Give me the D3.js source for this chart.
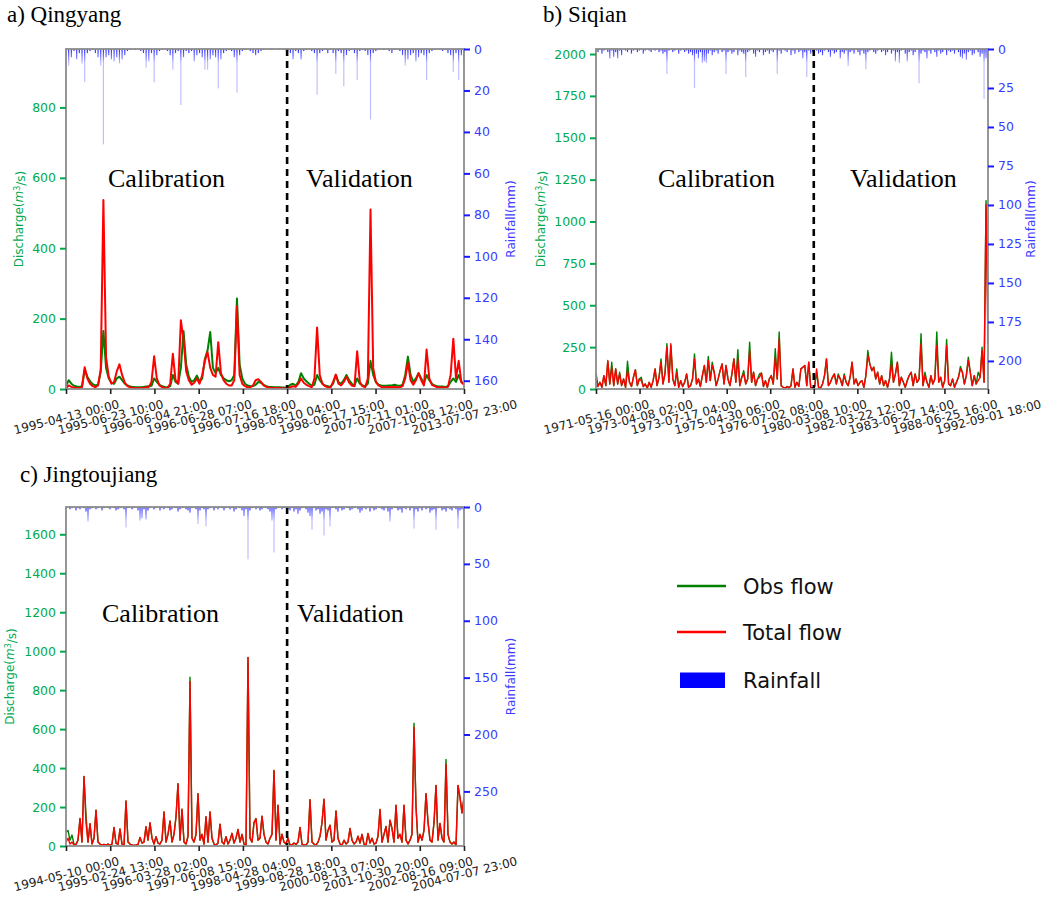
<!DOCTYPE html>
<html>
<head>
<meta charset="utf-8">
<script src="https://cdn.jsdelivr.net/npm/d3@7"></script>
<style>
  body { margin: 0; background: #fff; }
  svg { display: block; }
  text { font-family: "DejaVu Sans", sans-serif; }
  .serif { font-family: "Liberation Serif", "Times New Roman", serif; }
</style>
</head>
<body>
<div id="container"></div>
<script>
// ---- a) Qingyang ----
var datesA = ["1995-04-13 00:00", "1995-06-23 10:00", "1996-06-04 21:00", "1996-06-28 07:00", "1996-07-16 18:00",
  "1998-05-10 04:00", "1998-06-17 15:00", "2007-07-11 01:00", "2007-10-08 12:00", "2013-07-07 23:00"];
var obsA = [8,25,15,9,7,6,8,55,35,22, 14,10,12,50,165,60,30,18,15,30, 35,25,15,10,7,6,5,5,5,6,
  7,8,9,30,20,12,8,6,5,8, 40,20,15,60,165,70,35,20,25,38, 22,30,86,110,162,60,45,60,40,30,
  25,22,25,40,257,70,30,15,10,8, 8,12,20,18,12,8,6,6,5,5, 5,4,4,6,12,15,10,20,45,30,
  22,15,10,12,40,25,15,10,8,6, 15,40,20,15,25,40,25,15,10,30, 15,10,8,15,80,40,20,12,10,9,
  9,10,10,12,10,9,12,40,92,40, 20,30,45,30,15,40,25,15,10,8, 7,7,6,8,20,30,20,40,20,15];
var simA = [3,10,6,4,3,3,5,62,30,15, 8,5,10,55,537,90,35,15,20,50, 70,40,18,8,5,3,3,2,3,3,
  5,6,20,93,30,10,5,3,3,15, 100,25,15,195,140,50,25,12,18,30, 15,40,80,105,60,40,35,133,45,25,
  15,10,10,25,235,40,15,8,5,5, 10,25,28,20,10,6,4,3,3,3, 2,2,2,3,5,8,6,15,30,18,
  12,8,5,30,175,40,15,8,5,4, 20,41,15,10,20,35,18,10,8,107, 20,8,5,30,510,60,20,10,6,5,
  5,6,5,6,5,5,8,30,75,25, 12,25,45,25,10,112,30,12,8,5, 5,4,4,6,40,143,30,80,20,12];
var rainA = [3,8,4,1,5,2,7,16,2,1, 0.5,2,4,8,46,4,3,5,6,4, 7,5,3,1,0.5,0,0.5,0,1,2,
  9,6,2,16,3,1,0.5,0,1,3, 10,2,1,27,4,1,2,1,6,3, 2,4,10,10,5,3,4,19,5,2,
  1,0.5,1,4,21,3,1,0.5,0,1, 2,3,2,1,0.5,0,0,0.5,0,0, 0.5,0,0.5,1,2,5,1,2,5,1,
  0.5,0,1,2,22,2,1,0.5,2,0.5, 2,12,1,2,18,3,1,0.5,2,15, 1,0.5,1,3,34,2,1,0.5,0,0.5,
  0,1,2,0.5,0,1,3,8,5,3, 2,6,4,2,3,15,2,1,0.5,0, 0.5,1,0.5,2,3,11,2,15,3,8];

// ---- b) Siqian ----
var datesB = ["1971-05-16 00:00", "1973-04-08 02:00", "1973-07-17 04:00", "1975-04-30 06:00", "1976-07-02 08:00",
  "1980-03-08 10:00", "1982-03-22 12:00", "1983-06-27 14:00", "1988-06-25 16:00", "1992-09-01 18:00"];
var simB = [60,15,40,10,80,20,170,30,130,20, 120,30,90,20,60,10,110,40,15,70,
  115,20,60,50,15,30,5,40,10,50, 120,20,70,160,30,90,250,40,270,60,
  20,100,10,50,15,40,90,10,20,60, 180,30,60,15,80,140,40,170,50,140,
  100,20,60,110,150,30,140,60,20,90, 180,40,180,20,70,90,30,60,230,40,
  100,20,60,70,95,15,50,10,60,80, 30,190,60,300,20,10,5,15,8,20,
  120,10,40,15,120,130,140,20,160,10, 5,15,120,10,5,30,80,180,20,40,
  70,90,30,80,60,20,80,40,20,70, 160,30,60,20,40,50,10,80,200,150,
  110,130,60,100,30,80,20,50,10,60, 150,40,90,160,20,70,40,10,50,80,
  100,20,90,40,60,270,20,80,40,10, 80,30,60,260,40,70,10,50,260,30,
  20,60,10,40,70,120,100,30,80,170, 100,20,80,30,50,70,230,40,1100,270];
var obsB = [100,15,40,10,80,20,165,30,160,20, 120,30,100,20,60,10,166,40,15,70,
  115,20,60,70,15,30,5,40,10,50, 120,20,70,180,30,90,270,40,260,60,
  20,120,10,50,15,40,90,10,20,60, 210,30,60,15,80,140,40,195,50,160,
  100,20,60,110,150,30,140,60,20,90, 180,40,235,20,70,110,30,60,280,40,
  100,20,60,90,95,15,50,10,60,80, 30,240,60,340,20,10,5,15,8,20,
  120,10,40,15,120,130,140,20,160,10, 5,15,100,10,5,30,80,180,20,40,
  70,90,30,90,60,20,90,40,20,70, 160,30,60,20,40,50,10,80,230,150,
  110,130,60,100,30,80,20,50,10,60, 220,40,90,160,20,70,40,10,50,80,
  100,20,90,40,60,330,20,100,40,10, 80,30,60,340,40,70,10,50,296,30,
  20,60,10,40,70,135,100,30,80,190, 100,20,80,30,100,70,250,40,1125,390];
var rainB = [1,2,0,3,1,0,2,6,1,5, 2,6,1,4,0,1,2,0,3,1, 0,2,1,0,3,1,0,1,2,0, 1,0,2,1,3,2,16,1,0,2,
  1,0,3,1,0,2,1,3,2,4, 25,3,6,2,9,8,9,3,1,4, 2,1,3,0,2,1,16,2,1,3, 2,0,4,1,2,3,18,2,1,0,
  3,5,1,2,0,4,2,1,3,1, 2,0,16,1,3,0,1,2,0,4, 1,3,0,2,1,6,2,18,1,3, 2,0,1,3,2,4,1,0,2,5,
  1,3,2,0,6,2,3,1,11,2, 1,3,0,2,4,1,3,13,2,1, 0,2,3,1,0,2,1,4,2,0, 3,1,8,2,9,1,0,3,8,2,
  1,4,2,0,22,3,1,2,6,1, 3,0,2,5,1,3,2,0,4,1, 2,1,3,0,2,5,6,3,7,2, 1,4,3,0,2,5,3,32,6,10];

// ---- c) Jingtoujiang ----
var datesC = ["1994-05-10 00:00", "1995-02-24 13:00", "1996-03-28 02:00", "1997-06-08 15:00", "1998-04-28 04:00",
  "1999-08-28 18:00", "2000-08-13 07:00", "2001-10-30 20:00", "2002-08-16 09:00", "2004-07-07 23:00"];
var simC = [20,40,10,20,5,8,30,141,20,357, 120,20,115,10,40,184,20,10,5,8,
  5,10,5,10,95,15,8,87,10,5, 231,20,10,5,3,5,8,44,15,20,
  99,30,119,40,10,48,15,10,30,175, 20,60,128,20,60,150,320,30,189,20,
  10,50,845,40,20,60,269,30,60,10, 150,20,175,40,10,5,15,112,20,10,
  48,10,30,65,15,40,85,20,60,10, 5,968,40,20,120,141,30,40,153,60,
  20,10,40,60,388,30,209,10,60,20, 10,40,5,5,15,8,20,95,10,5,
  5,20,238,20,10,5,20,50,120,240, 30,80,107,20,30,180,40,10,5,30,
  10,20,90,30,10,20,50,15,60,10, 5,65,15,40,10,15,50,187,20,60,
  100,20,133,90,20,209,40,60,20,209, 30,10,30,60,610,200,20,60,30,80,
  269,124,30,20,120,311,30,116,40,20, 420,60,20,10,20,5,311,248,170,248];
var obsC = [70,80,30,56,10,8,30,141,20,357, 160,20,115,10,40,184,20,10,5,8,
  5,10,5,10,95,15,8,87,10,5, 231,20,10,5,3,5,8,44,15,20,
  99,30,119,40,10,48,15,10,30,175, 20,60,128,20,60,150,320,30,189,20,
  10,50,866,40,20,60,269,30,60,10, 150,20,175,40,10,5,15,112,20,10,
  48,10,30,65,15,40,85,20,60,10, 5,968,40,20,120,141,30,40,153,60,
  20,10,40,60,388,30,209,10,60,20, 10,40,5,5,15,8,20,95,10,5,
  5,20,238,20,10,5,20,50,120,240, 30,80,107,20,30,180,40,10,5,30,
  10,20,90,30,10,20,50,15,60,10, 5,65,15,40,10,15,50,187,20,60,
  100,20,133,90,20,209,40,60,20,209, 30,10,30,60,630,200,20,60,30,80,
  269,124,30,20,120,311,30,116,40,20, 444,60,20,10,20,5,311,248,170,248];
var rainC = [1,0,2,1,0,3,1,2,0,1, 4,13,2,1,0,2,1,0,3,1, 0,1,2,0,1,3,2,1,0,2, 18,1,0,2,1,0,3,12,10,2,
  11,3,1,0,2,1,0,3,1,2, 0,1,3,2,0,1,4,2,1,0, 2,3,5,1,0,2,15,3,1,2, 17,2,1,0,3,1,2,0,1,3,
  1,0,2,1,4,2,0,1,3,8, 2,46,3,1,0,2,1,3,2,0, 1,2,4,12,40,2,1,0,2,1, 0,2,3,1,4,2,6,3,1,0,
  2,5,8,20,1,3,2,6,4,25, 2,3,17,1,0,2,4,1,3,2, 0,1,3,2,1,0,2,5,3,1, 2,0,4,1,3,2,0,1,2,3,
  1,4,13,2,0,1,3,2,5,1, 2,0,3,1,19,2,4,1,3,0, 2,1,5,3,2,20,1,0,3,2, 4,1,2,3,0,2,19,3,2,5];

// axis ticks
var qTicksA = [0, 200, 400, 600, 800], rTicksA = [0, 20, 40, 60, 80, 100, 120, 140, 160];
var qTicksB = [0, 250, 500, 750, 1000, 1250, 1500, 1750, 2000], rTicksB = [0, 25, 50, 75, 100, 125, 150, 175, 200];
var qTicksC = [0, 200, 400, 600, 800, 1000, 1200, 1400, 1600], rTicksC = [0, 50, 100, 150, 200, 250];

var W = 1052, H = 897;
var GREEN_TXT = "#00a94f", BLUE_TXT = "#3b3bff";
var TICK_FONT = "12.5px";

var svg = d3.select("#container").append("svg")
  .attr("width", W).attr("height", H);
svg.append("rect").attr("width", W).attr("height", H).attr("fill", "#fff");
var defs = svg.append("defs");

function drawPanel(p) {
  var g = svg.append("g");
  var n = p.obs.length;
  var x = d3.scaleLinear().domain([0, n - 1]).range([p.x0, p.x1]);
  var yQ = d3.scaleLinear().domain([0, p.qMax]).range([p.y1, p.y0]);
  var yR = d3.scaleLinear().domain([0, p.rMax]).range([p.y0, p.y1]);
  var tickIdx = d3.range(10).map(function (i) { return i * (n - 1) / 9; });

  defs.append("clipPath").attr("id", "clip-" + p.id)
    .append("rect").attr("x", p.x0).attr("y", p.y0)
    .attr("width", p.x1 - p.x0).attr("height", p.y1 - p.y0);

  // rain bars darker where they pile up near the top
  var grad = defs.append("linearGradient").attr("id", "rain-" + p.id)
    .attr("gradientUnits", "userSpaceOnUse")
    .attr("x1", 0).attr("x2", 0).attr("y1", p.y0).attr("y2", p.y0 + 14);
  grad.append("stop").attr("offset", 0).attr("stop-color", "#0000ff").attr("stop-opacity", 0.85);
  grad.append("stop").attr("offset", 1).attr("stop-color", "#0000ff").attr("stop-opacity", 0.25);

  var plot = g.append("g").attr("clip-path", "url(#clip-" + p.id + ")");

  plot.selectAll("rect.rain").data(p.rain).enter().append("rect")
    .attr("class", "rain")
    .attr("x", function (d, i) { return x(i) - 0.6; })
    .attr("width", 1.2)
    .attr("y", yR(0))
    .attr("height", function (d) { return yR(d) - yR(0); })
    .attr("fill", "url(#rain-" + p.id + ")");

  var line = d3.line()
    .x(function (d, i) { return x(i); })
    .y(function (d) { return yQ(d); });

  plot.append("path").datum(p.obs).attr("d", line)
    .attr("fill", "none").attr("stroke", "#008000").attr("stroke-width", p.lw)
    .attr("stroke-linejoin", "round");
  plot.append("path").datum(p.sim).attr("d", line)
    .attr("fill", "none").attr("stroke", "#ff0000").attr("stroke-width", p.lw)
    .attr("stroke-linejoin", "round");

  // calibration / validation split
  g.append("line")
    .attr("x1", x(tickIdx[5])).attr("x2", x(tickIdx[5]))
    .attr("y1", p.y0).attr("y2", p.y1)
    .attr("stroke", "#000").attr("stroke-width", 2.6).attr("stroke-dasharray", "7,5");

  // spines
  g.append("rect").attr("x", p.x0).attr("y", p.y0)
    .attr("width", p.x1 - p.x0).attr("height", p.y1 - p.y0)
    .attr("fill", "none").attr("stroke", "#8c8c8c").attr("stroke-width", 1.8);

  // left axis
  var ax = g.append("g").attr("transform", "translate(" + p.x0 + ",0)")
    .call(d3.axisLeft(yQ).tickValues(p.qTicks).tickFormat(d3.format("d")).tickSize(6).tickPadding(4));
  ax.select(".domain").remove();
  ax.selectAll("line").attr("stroke", "#00a94f").attr("stroke-width", 2);
  ax.selectAll("text").attr("fill", GREEN_TXT).style("font-size", TICK_FONT).style("font-family", "DejaVu Sans");

  // right axis (rain, inverted)
  var ar = g.append("g").attr("transform", "translate(" + p.x1 + ",0)")
    .call(d3.axisRight(yR).tickValues(p.rTicks).tickFormat(d3.format("d")).tickSize(6).tickPadding(4));
  ar.select(".domain").remove();
  ar.selectAll("line").attr("stroke", "#1a1aff").attr("stroke-width", 2);
  ar.selectAll("text").attr("fill", BLUE_TXT).style("font-size", TICK_FONT).style("font-family", "DejaVu Sans");

  // bottom axis
  var ab = g.append("g").attr("transform", "translate(0," + p.y1 + ")")
    .call(d3.axisBottom(x).tickValues(tickIdx).tickSize(5)
      .tickFormat(function (d, i) { return p.dates[i]; }));
  ab.select(".domain").remove();
  ab.selectAll("line").attr("stroke", "#222").attr("stroke-width", 1.6);
  ab.selectAll("text")
    .attr("y", 0).attr("dy", "0.35em")
    .attr("text-anchor", "middle")
    .attr("transform", "translate(0,28) rotate(-14)")
    .attr("fill", "#222").style("font-size", "12px").style("font-family", "DejaVu Sans");

  // axis titles
  var cy = (p.y0 + p.y1) / 2;
  var lt = g.append("text")
    .attr("transform", "translate(" + p.ylabX + "," + cy + ") rotate(-90)")
    .attr("text-anchor", "middle").attr("dy", "0.35em")
    .attr("fill", GREEN_TXT).style("font-size", "12px");
  lt.append("tspan").text("Discharge(");
  lt.append("tspan").style("font-style", "italic").text("m");
  lt.append("tspan").attr("dy", "-0.4em").style("font-size", "8px").text("3");
  lt.append("tspan").attr("dy", "0.4em").text("/s)");

  g.append("text")
    .attr("transform", "translate(" + p.rlabX + "," + cy + ") rotate(-90)")
    .attr("text-anchor", "middle").attr("dy", "0.35em")
    .attr("fill", BLUE_TXT).style("font-size", "12px")
    .text("Rainfall(mm)");

  // panel title and period labels
  g.append("text").attr("class", "serif")
    .attr("x", p.titleX).attr("y", p.titleY)
    .style("font-size", "23px").attr("fill", "#000")
    .text(p.title);
  g.append("text").attr("class", "serif")
    .attr("x", p.x0 + p.calDx).attr("y", p.y0 + p.perDy)
    .style("font-size", "26px").attr("fill", "#000")
    .text("Calibration");
  g.append("text").attr("class", "serif")
    .attr("x", p.x0 + p.valDx).attr("y", p.y0 + p.perDy)
    .style("font-size", "26px").attr("fill", "#000")
    .text("Validation");
}

drawPanel({ id: "a", title: "a) Qingyang", titleX: 7, titleY: 22,
  x0: 66, x1: 464, y0: 49, y1: 389, qMax: 966, rMax: 164, lw: 2,
  obs: obsA, sim: simA, rain: rainA, dates: datesA, qTicks: qTicksA, rTicks: rTicksA,
  ylabX: 19, rlabX: 511, calDx: 42, valDx: 240, perDy: 138 });

drawPanel({ id: "b", title: "b) Siqian", titleX: 543, titleY: 22,
  x0: 596, x1: 988, y0: 49, y1: 389, qMax: 2030, rMax: 218, lw: 1.4,
  obs: obsB, sim: simB, rain: rainB, dates: datesB, qTicks: qTicksB, rTicks: rTicksB,
  ylabX: 541, rlabX: 1031, calDx: 62, valDx: 254, perDy: 138 });

drawPanel({ id: "c", title: "c) Jingtoujiang", titleX: 20, titleY: 482,
  x0: 66, x1: 464, y0: 507, y1: 846, qMax: 1740, rMax: 298, lw: 1.4,
  obs: obsC, sim: simC, rain: rainC, dates: datesC, qTicks: qTicksC, rTicks: rTicksC,
  ylabX: 10, rlabX: 511, calDx: 36, valDx: 231, perDy: 115 });

// legend
var legendItems = [
  { label: "Obs flow", color: "#008000", kind: "line", y: 586 },
  { label: "Total flow", color: "#ff0000", kind: "line", y: 632 },
  { label: "Rainfall", color: "#0000ff", kind: "box", y: 680 }
];
var lg = svg.append("g");
legendItems.forEach(function (d) {
  if (d.kind === "line") {
    lg.append("line").attr("x1", 677).attr("x2", 726).attr("y1", d.y).attr("y2", d.y)
      .attr("stroke", d.color).attr("stroke-width", 2.6);
  } else {
    lg.append("rect").attr("x", 680).attr("y", d.y - 7.5).attr("width", 45).attr("height", 15.5)
      .attr("fill", d.color);
  }
  lg.append("text").attr("x", 743).attr("y", d.y + 8)
    .style("font-size", "21px").attr("fill", "#111").text(d.label);
});
</script>
</body>
</html>
